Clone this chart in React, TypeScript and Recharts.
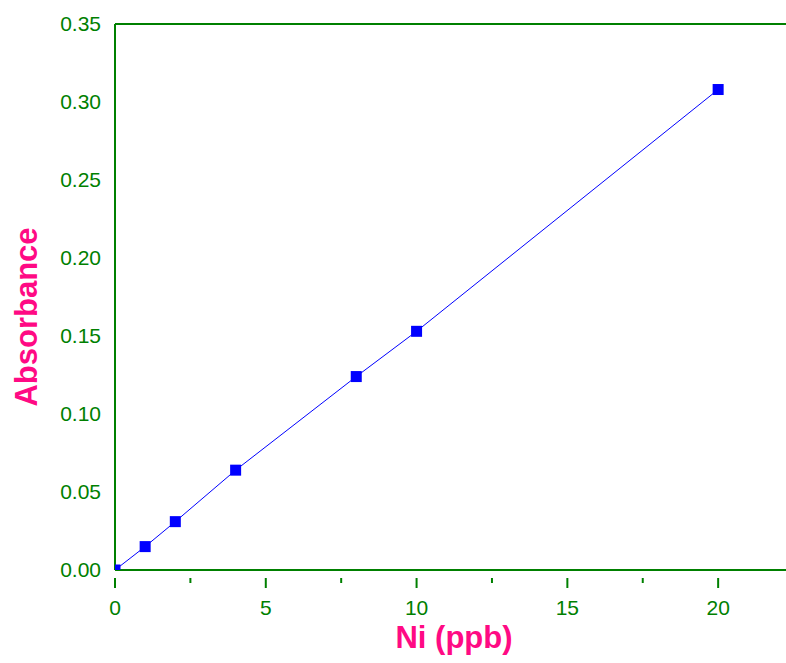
import React from "react";
import { LineChart, Line, XAxis, YAxis } from "recharts";

// Ni calibration standards (ppb) and measured absorbance
const niPpb = [0, 1, 2, 4, 8, 10, 20];
const absorbance = [0.0, 0.015, 0.031, 0.064, 0.124, 0.153, 0.308];

const xTicks = [0, 2.5, 5, 7.5, 10, 12.5, 15, 17.5, 20];
const xLabels = [0, 5, 10, 15, 20];
const yTicks = [0, 0.05, 0.1, 0.15, 0.2, 0.25, 0.3, 0.35];

const GREEN = "#008000";
const BLUE = "#0000ff";
const PINK = "#ff0a84";
const FONT = "Liberation Sans, Arial, sans-serif";

const data = niPpb.map((x, i) => ({ x, y: absorbance[i] }));

// bottom axis: long ticks under labelled values, short ones in between
const BottomTick = (props: any) => {
  const { x, y, payload } = props;
  const major = xLabels.includes(payload.value);
  return (
    <g>
      <line x1={x} x2={x} y1={y} y2={y + (major ? 10 : 5)} stroke={GREEN} strokeWidth={2} />
      {major && (
        <text x={x} y={y + 37} textAnchor="middle" fill={GREEN} fontSize={21} fontFamily={FONT}>
          {payload.value}
        </text>
      )}
    </g>
  );
};

const SquareDot = (props: any) => {
  const { cx, cy } = props;
  if (cx == null || cy == null) return null;
  return <rect x={cx - 5.5} y={cy - 5.5} width={11} height={11} fill={BLUE} />;
};

const XTitle = () => (
  <text x={454} y={648} textAnchor="middle" fill={PINK} fontSize={31} fontWeight="bold" fontFamily={FONT}>
    Ni (ppb)
  </text>
);

const YTitle = () => (
  <text
    x={37}
    y={317}
    transform="rotate(-90, 37, 317)"
    textAnchor="middle"
    fill={PINK}
    fontSize={31}
    fontWeight="bold"
    fontFamily={FONT}
  >
    Absorbance
  </text>
);

export default function App() {
  return (
    <div style={{ position: "absolute", left: 0, top: 0, background: "#fff" }}>
      <LineChart
        width={786}
        height={663}
        data={data}
        margin={{ top: 0, right: 0, left: 0, bottom: 0 }}
      >
        <XAxis
          dataKey="x"
          type="number"
          domain={[0, 22.25]}
          ticks={xTicks}
          interval={0}
          allowDataOverflow
          height={93}
          axisLine={{ stroke: GREEN, strokeWidth: 2 }}
          tickLine={false}
          tick={<BottomTick />}
          label={{ content: () => <XTitle /> }}
        />
        <XAxis
          xAxisId="top"
          dataKey="x"
          type="number"
          orientation="top"
          domain={[0, 22.25]}
          ticks={xTicks}
          interval={0}
          height={24}
          axisLine={{ stroke: GREEN, strokeWidth: 2 }}
          tickLine={{ stroke: "#b0d0b0", strokeWidth: 1 }}
          tickSize={2}
          tick={false}
        />
        <YAxis
          dataKey="y"
          type="number"
          domain={[0, 0.35]}
          ticks={yTicks}
          interval={0}
          allowDataOverflow
          width={115}
          axisLine={{ stroke: GREEN, strokeWidth: 2 }}
          tickLine={false}
          tickMargin={8}
          tickFormatter={(v: number) => v.toFixed(2)}
          tick={{ fill: GREEN, fontSize: 21, fontFamily: FONT }}
          label={{ content: () => <YTitle /> }}
        />
        <Line
          dataKey="y"
          type="linear"
          stroke={BLUE}
          strokeWidth={1}
          dot={<SquareDot />}
          activeDot={false}
          isAnimationActive={false}
        />
      </LineChart>
    </div>
  );
}
